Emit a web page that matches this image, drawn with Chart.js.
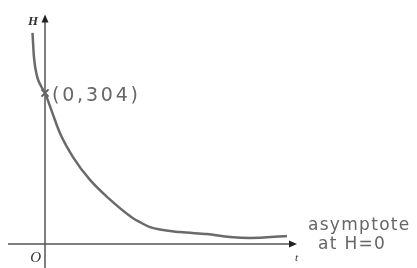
<!DOCTYPE html>
<html><head><meta charset="utf-8">
<script src="https://cdn.jsdelivr.net/npm/chart.js@4"></script>
<style>html,body{margin:0;padding:0;background:#fff}#w{width:417px;height:268px}</style>
</head><body><div id="w"><canvas id="c"></canvas></div>
<script>
// data
const tValues = [-1.25, -1.1, -0.8, -0.4, 0, 0.7, 1.5, 2.8, 4.5, 6.2, 8.8, 9.5, 10.5, 13.5, 16.2, 18.5, 20.5, 24.2];
const hValues = [425, 375, 338, 318, 304, 266, 223, 175, 129, 95, 52, 44, 34, 24, 20, 14, 12, 16];
const interceptPoint = [{x: 0, y: 304}];
const interceptLabel = '(0,304)';
const asymptoteLabel = ['asymptote', 'at H=0'];
const axisLabels = {y: 'H', x: 't', origin: 'O'};

const curve = tValues.map((t, i) => ({x: t, y: hValues[i]}));

const axesPlugin = {
  id: 'axes',
  beforeDatasetsDraw(chart) {
    const {ctx} = chart; const xs = chart.scales.x, ys = chart.scales.y;
    const x0 = xs.getPixelForValue(0), y0 = ys.getPixelForValue(0);
    const xl = xs.getPixelForValue(-3.7), xr = xs.getPixelForValue(25.2);
    const yt = ys.getPixelForValue(462), yb = ys.getPixelForValue(-50);
    ctx.save();
    ctx.strokeStyle = '#555'; ctx.fillStyle = '#222'; ctx.lineWidth = 1.5;
    ctx.beginPath(); ctx.moveTo(xl, y0); ctx.lineTo(xr - 6, y0); ctx.stroke();
    ctx.beginPath(); ctx.moveTo(x0, yb); ctx.lineTo(x0, yt + 6); ctx.stroke();
    ctx.beginPath(); ctx.moveTo(xr, y0); ctx.lineTo(xr - 8, y0 - 3.5); ctx.lineTo(xr - 8, y0 + 3.5); ctx.closePath(); ctx.fill();
    ctx.beginPath(); ctx.moveTo(x0, yt); ctx.lineTo(x0 - 3.5, yt + 8); ctx.lineTo(x0 + 3.5, yt + 8); ctx.closePath(); ctx.fill();
    ctx.restore();
  },
  afterDatasetsDraw(chart) {
    const {ctx} = chart; const xs = chart.scales.x, ys = chart.scales.y;
    const x0 = xs.getPixelForValue(0), y0 = ys.getPixelForValue(0);
    const xr = xs.getPixelForValue(25.2), yt = ys.getPixelForValue(462);
    ctx.save();
    ctx.fillStyle = '#333';
    ctx.font = 'italic bold 13px "Liberation Serif"';
    ctx.textBaseline = 'alphabetic'; ctx.textAlign = 'right';
    ctx.fillText(axisLabels.y, x0 - 7, yt + 10);
    ctx.font = 'italic 15px "Liberation Serif"';
    ctx.fillText(axisLabels.origin, x0 - 4, y0 + 18);
    ctx.textAlign = 'left';
    ctx.font = 'italic 11px "Liberation Serif"';
    ctx.fillText(axisLabels.x, xr - 2, y0 + 17);
    ctx.fillStyle = '#666';
    ctx.font = '19px "DejaVu Sans"';
    ctx.letterSpacing = '2.8px';
    const ix = xs.getPixelForValue(interceptPoint[0].x), iy = ys.getPixelForValue(interceptPoint[0].y);
    ctx.fillText(interceptLabel, ix + 7, iy + 8);
    ctx.font = '17px "DejaVu Sans"';
    ctx.letterSpacing = '1.3px';
    ctx.fillText(asymptoteLabel[0], xs.getPixelForValue(26.3), ys.getPixelForValue(29));
    ctx.fillText(asymptoteLabel[1], xs.getPixelForValue(27.3), ys.getPixelForValue(-10));
    ctx.restore();
  }
};

new Chart(document.getElementById('c'), {
  type: 'scatter',
  data: {datasets: [
    {data: curve, showLine: true, borderColor: '#6a6a6a', borderWidth: 2.5, pointRadius: 0, cubicInterpolationMode: 'monotone'},
    {data: interceptPoint, pointStyle: 'crossRot', pointRadius: 5, borderColor: '#555', borderWidth: 1.8, showLine: false}
  ]},
  options: {
    responsive: true, maintainAspectRatio: false, animation: false,
    layout: {padding: 0, autoPadding: false},
    plugins: {legend: {display: false}, tooltip: {enabled: false}},
    scales: {
      x: {type: 'linear', display: false, min: -4.5, max: 37.2},
      y: {type: 'linear', display: false, min: -48.3, max: 491.2}
    }
  },
  plugins: [axesPlugin]
});
</script></body></html>
